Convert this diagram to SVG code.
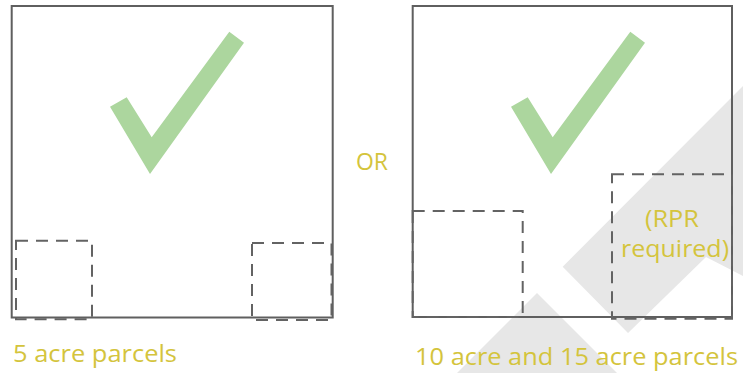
<svg xmlns="http://www.w3.org/2000/svg" width="743" height="373" viewBox="0 0 743 373">
  <defs>
    <style>
      .box { fill: none; stroke: #5f5f5f; stroke-width: 2; }
      .dash { fill: none; stroke: #636363; stroke-width: 2; stroke-dasharray: 12 8; }
      .wm { fill: #e7e7e7; stroke: none; }
      .check { fill: #acd69e; stroke: none; }
      .lbl { font-family: "Open Sans", "Lato", sans-serif; font-size: 23px; fill: #d4c43c; }
    </style>
    <polygon id="check" class="check" points="110,106.7 126.7,97.3 151.7,137.3 229.3,31.7 244,42.7 150,174"/>
  </defs>
  <rect x="0" y="0" width="743" height="373" fill="#ffffff"/>

  <g id="watermark">
    <polygon class="wm" points="562.7,266.7 743,86 743,276 706,257 628,333"/>
    <polygon class="wm" points="457,373 537,293 617,373"/>
  </g>

  <g id="left-panel">
    <rect class="box" x="11.7" y="6" width="321" height="311.5"/>
    <rect class="dash" x="16" y="240.7" width="76" height="78.6"/>
    <rect class="dash" x="252" y="243" width="79.5" height="77"/>
    <use href="#check"/>
    <text class="lbl" x="13" y="362" textLength="164" lengthAdjust="spacingAndGlyphs">5 acre parcels</text>
  </g>

  <g id="or-label">
    <text class="lbl" x="356" y="169.5" textLength="32" lengthAdjust="spacingAndGlyphs">OR</text>
  </g>

  <g id="right-panel">
    <rect class="box" x="412.7" y="6" width="319.3" height="311"/>
    <rect class="dash" x="412.7" y="211" width="110" height="106"/>
    <rect class="dash" x="612" y="174.3" width="120" height="144.5"/>
    <use href="#check" transform="translate(401,0)"/>
    <text class="lbl" x="645" y="227" textLength="54" lengthAdjust="spacingAndGlyphs">(RPR</text>
    <text class="lbl" x="621" y="257" textLength="108" lengthAdjust="spacingAndGlyphs">required)</text>
    <text class="lbl" x="415" y="364.5" textLength="323" lengthAdjust="spacingAndGlyphs">10 acre and 15 acre parcels</text>
  </g>
</svg>
